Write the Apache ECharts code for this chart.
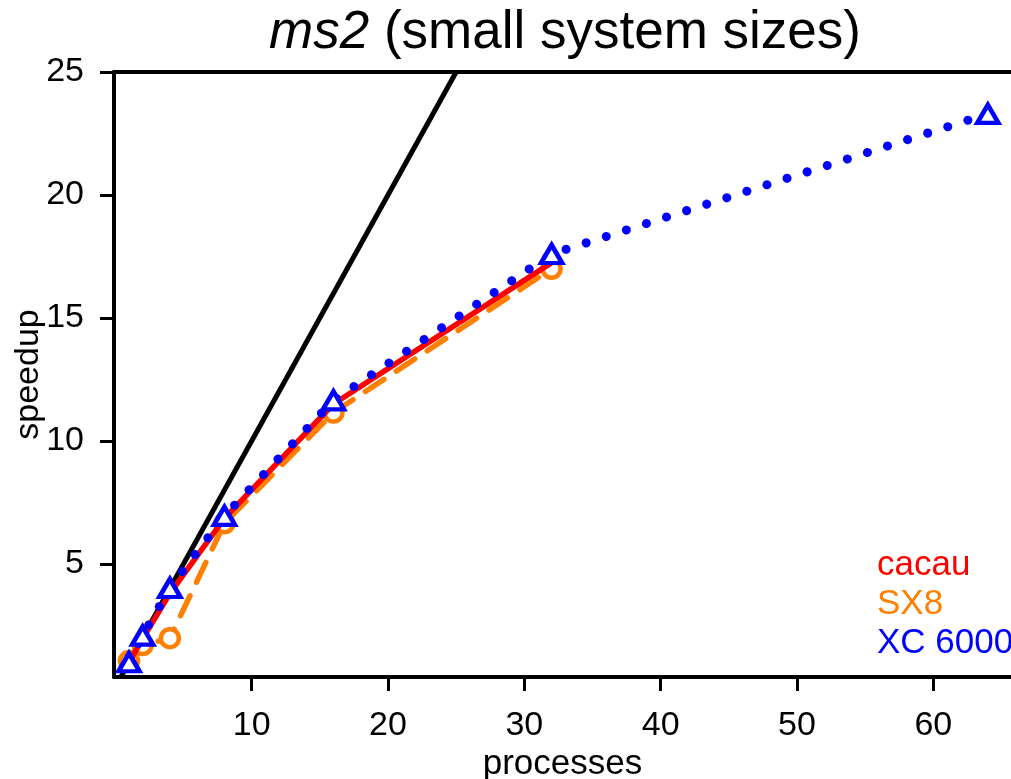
<!DOCTYPE html>
<html>
<head>
<meta charset="utf-8">
<title>ms2 speedup</title>
<script src="https://cdn.jsdelivr.net/npm/echarts@6/dist/echarts.min.js"></script>
<style>
  html, body { margin: 0; padding: 0; background: #fff; }
  #chart { width: 1011px; height: 779px; }
</style>
</head>
<body>
<div id="chart"></div>
<script>
// Process counts per machine
const procsShort = [1, 2, 4, 8, 16, 32];
const procsLong = [1, 2, 4, 8, 16, 32, 64];

// Measured speedups
const cacauSpeedup = [1.0, 1.95, 3.8, 6.85, 11.5, 17.25];
const sx8Speedup = [1.05, 1.7, 1.98, 6.65, 11.15, 17.0];
const xcSpeedup = [1.0, 2.08, 4.02, 6.95, 11.65, 17.6, 23.3];

// Ideal (linear) speedup endpoints
const idealProcs = [0.4, 25];
const idealSpeedup = [0.4, 25];

// Tick labels
const xTicks = [10, 20, 30, 40, 50, 60];
const yTicks = [5, 10, 15, 20, 25];

const zip = (xs, ys) => xs.map((x, i) => [x, ys[i]]);

const FONT = '"Liberation Sans", Arial, sans-serif';
const RED = '#ff0000';
const ORANGE = '#ff8000';
const BLUE = '#0000ff';

const chart = echarts.init(document.getElementById('chart'), null, { renderer: 'canvas' });

chart.setOption({
  animation: false,
  backgroundColor: '#ffffff',
  title: {
    text: '{i|ms2} (small system sizes)',
    left: 560,
    textAlign: 'center',
    top: 2,
    textStyle: {
      fontFamily: FONT,
      fontSize: 53,
      fontWeight: 'normal',
      color: '#000',
      rich: {
        i: { fontFamily: FONT, fontSize: 53, fontStyle: 'italic', color: '#000' }
      }
    }
  },
  legend: {
    orient: 'vertical',
    left: 867,
    top: 543,
    itemGap: 4,
    itemWidth: 0,
    itemHeight: 0,
    icon: 'none',
    selectedMode: false,
    textStyle: { fontFamily: FONT, fontSize: 35, padding: 0 },
    data: [
      { name: 'cacau', textStyle: { color: RED } },
      { name: 'SX8', textStyle: { color: ORANGE } },
      { name: 'XC 6000', textStyle: { color: BLUE } }
    ]
  },
  grid: { left: 114, top: 72, right: 0, bottom: 102, containLabel: false, outerBoundsMode: 'none' },
  xAxis: [
    {
      type: 'value',
      min: -0.1,
      max: 65.7,
      name: 'processes',
      nameLocation: 'middle',
      nameGap: 70,
      nameMoveOverlap: false,
      nameTextStyle: { fontFamily: FONT, fontSize: 35, color: '#000' },
      axisLine: { show: true, onZero: false, lineStyle: { color: '#000', width: 4 } },
      axisTick: { show: true, inside: false, length: 14, customValues: xTicks, lineStyle: { color: '#000', width: 3 } },
      axisLabel: { margin: 32, customValues: xTicks, fontFamily: FONT, fontSize: 34, color: '#000' },
      splitLine: { show: false }
    },
    {
      type: 'value',
      position: 'top',
      min: -0.1,
      max: 65.7,
      axisLine: { show: true, onZero: false, lineStyle: { color: '#000', width: 4 } },
      axisTick: { show: false },
      axisLabel: { show: false },
      splitLine: { show: false }
    }
  ],
  yAxis: {
    type: 'value',
    min: 0.4,
    max: 25,
    name: 'speedup',
    nameLocation: 'middle',
    nameGap: 68,
    nameMoveOverlap: false,
    nameRotate: 90,
    nameTextStyle: { fontFamily: FONT, fontSize: 34, color: '#000' },
    axisLine: { show: true, onZero: false, lineStyle: { color: '#000', width: 4 } },
    axisTick: { show: true, inside: false, length: 14, customValues: yTicks, lineStyle: { color: '#000', width: 3 } },
    axisLabel: { margin: 30, customValues: yTicks, fontFamily: FONT, fontSize: 34, color: '#000' },
    splitLine: { show: false }
  },
  series: [
    {
      name: 'ideal',
      type: 'line',
      data: zip(idealProcs, idealSpeedup),
      symbol: 'none',
      lineStyle: { color: '#000', width: 5 },
      z: 1
    },
    {
      name: 'SX8',
      type: 'line',
      data: zip(procsShort, sx8Speedup),
      symbol: 'circle',
      symbolSize: 18,
      itemStyle: { color: '#fff', borderColor: ORANGE, borderWidth: 4.5 },
      lineStyle: { color: ORANGE, width: 5.5, type: [22, 15], cap: 'round' },
      color: ORANGE,
      z: 2
    },
    {
      name: 'cacau',
      type: 'line',
      data: zip(procsShort, cacauSpeedup),
      symbol: 'none',
      lineStyle: { color: RED, width: 5.5 },
      color: RED,
      z: 3
    },
    {
      name: 'XC 6000',
      type: 'line',
      data: zip(procsLong, xcSpeedup),
      symbol: 'triangle',
      symbolSize: [21, 18],
      itemStyle: { color: '#fff', borderColor: BLUE, borderWidth: 4.5 },
      lineStyle: { color: BLUE, width: 9, type: [0.1, 21], cap: 'round' },
      color: BLUE,
      z: 4
    }
  ]
});
</script>
</body>
</html>
